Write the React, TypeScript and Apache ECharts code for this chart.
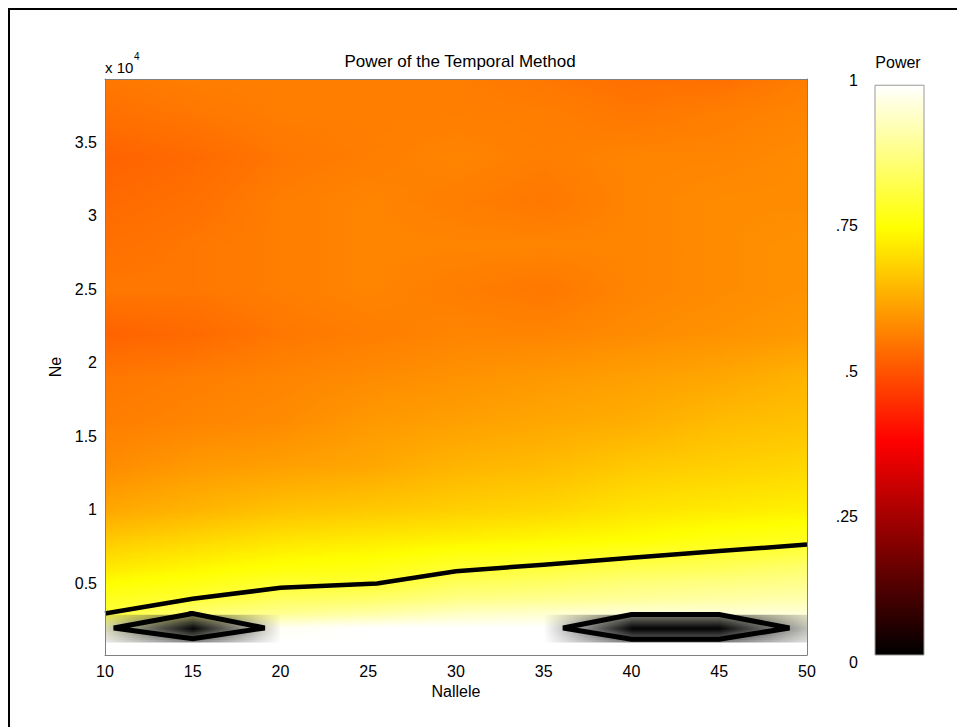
import React, { useEffect, useRef } from 'react';
import * as echarts from 'echarts';

// ---------------- data ----------------
const nallele = [10, 15, 20, 25, 30, 35, 40, 45, 50];
const neRows = [0, 1000, 2000, 3000, 4000, 5000, 6000, 8000, 10000, 13000, 16000, 19000, 22000, 25000, 28000, 31000, 34000, 37000, 39300];

const powerNe0 = [1, 1, 1, 1, 1, 1, 1, 1, 1];
const powerNe1000 = [1, 1, 1, 1, 1, 1, 1, 1, 1];
const powerNe2000 = [0.96, 0.98, 0.99, 1, 1, 1, 1, 1, 0.99];
const powerNe3000 = [0.8, 0.86, 0.89, 0.91, 0.94, 0.95, 0.96, 0.96, 0.96];
const powerNe4000 = [0.78, 0.8, 0.84, 0.85, 0.88, 0.89, 0.9, 0.91, 0.92];
const powerNe5000 = [0.75, 0.77, 0.8, 0.8, 0.84, 0.85, 0.87, 0.88, 0.89];
const powerNe6000 = [0.72, 0.74, 0.76, 0.77, 0.8, 0.81, 0.83, 0.84, 0.86];
const powerNe8000 = [0.67, 0.69, 0.71, 0.72, 0.73, 0.74, 0.75, 0.77, 0.78];
const powerNe10000 = [0.62, 0.64, 0.66, 0.67, 0.68, 0.69, 0.71, 0.72, 0.73];
const powerNe13000 = [0.58, 0.6, 0.61, 0.62, 0.64, 0.65, 0.67, 0.68, 0.69];
const powerNe16000 = [0.56, 0.57, 0.58, 0.6, 0.61, 0.62, 0.63, 0.65, 0.66];
const powerNe19000 = [0.55, 0.56, 0.57, 0.58, 0.59, 0.6, 0.61, 0.62, 0.64];
const powerNe22000 = [0.52, 0.53, 0.55, 0.56, 0.57, 0.57, 0.58, 0.59, 0.6];
const powerNe25000 = [0.55, 0.55, 0.56, 0.57, 0.56, 0.55, 0.57, 0.58, 0.59];
const powerNe28000 = [0.54, 0.55, 0.56, 0.57, 0.57, 0.57, 0.57, 0.58, 0.59];
const powerNe31000 = [0.53, 0.54, 0.56, 0.57, 0.56, 0.55, 0.57, 0.58, 0.58];
const powerNe34000 = [0.52, 0.53, 0.55, 0.56, 0.57, 0.56, 0.57, 0.57, 0.58];
const powerNe37000 = [0.54, 0.55, 0.56, 0.56, 0.56, 0.56, 0.55, 0.56, 0.57];
const powerNe39300 = [0.55, 0.56, 0.56, 0.56, 0.56, 0.55, 0.54, 0.54, 0.56];

const powerGrid = [
  powerNe0, powerNe1000, powerNe2000, powerNe3000, powerNe4000, powerNe5000, powerNe6000,
  powerNe8000, powerNe10000, powerNe13000, powerNe16000, powerNe19000, powerNe22000,
  powerNe25000, powerNe28000, powerNe31000, powerNe34000, powerNe37000, powerNe39300,
];

// dark (gray) low-power band
const shadeNe = [1000, 1950, 2900];
const shadeNe1000 = [0.08, 0.45, 0, 0, 0, 0, 0.5, 0.5, 0.12];
const shadeNe1950 = [0.15, 1.0, 0, 0, 0, 0, 1.0, 1.0, 0.25];
const shadeNe2900 = [0.08, 0.45, 0, 0, 0, 0, 0.5, 0.5, 0.12];
const shadeGrid = [shadeNe1000, shadeNe1950, shadeNe2900];

// contour lines
const contourX = [10, 15, 20, 25.5, 30, 35, 40, 45, 50];
const contourNe = [2920, 3930, 4670, 4960, 5800, 6250, 6720, 7170, 7620];
const zoneAX = [10.5, 15, 19.1, 15, 10.5, 15];
const zoneANe = [1940, 2920, 1940, 1210, 1940, 2920];
const zoneBX = [36.1, 40, 45, 49, 45, 40, 36.1, 40];
const zoneBNe = [1940, 2850, 2850, 1940, 1170, 1170, 1940, 2850];

const xTicks = { min: 10, max: 50, interval: 5 };
const yRange = { min: 100, max: 39300, splitNumber: 8 };
const colorbarTicks = [0, 0.25, 0.5, 0.75, 1];
const colorbarSpan = [0.012, 0.991];

// ---------------- helpers ----------------
const FONT = "'Liberation Sans', Arial, Helvetica, sans-serif";
const clamp01 = (v: number) => Math.max(0, Math.min(1, v));

function hot(v: number, s = 0): string {
  const r = clamp01(v / 0.375);
  const g = clamp01((v - 0.375) / 0.375);
  const b = clamp01((v - 0.75) / 0.25);
  const k = 1 - clamp01(s);
  return `rgb(${Math.round(r * k * 255)},${Math.round(g * k * 255)},${Math.round(b * k * 255)})`;
}

function findIdx(arr: number[], v: number): [number, number] {
  if (v <= arr[0]) return [0, 0];
  for (let i = 0; i < arr.length - 1; i++) {
    if (v <= arr[i + 1]) return [i, (v - arr[i]) / (arr[i + 1] - arr[i])];
  }
  return [arr.length - 2, 1];
}

function bilinear(grid: number[][], rows: number[], x: number, ne: number): number {
  const [i, tx] = findIdx(nallele, x);
  const [j, ty] = findIdx(rows, ne);
  const j1 = Math.min(j + 1, rows.length - 1);
  const i1 = Math.min(i + 1, nallele.length - 1);
  const a = grid[j][i] * (1 - ty) + grid[j1][i] * ty;
  const b = grid[j][i1] * (1 - ty) + grid[j1][i1] * ty;
  return a * (1 - tx) + b * tx;
}

function shadeAt(x: number, ne: number): number {
  if (ne < shadeNe[0] || ne > shadeNe[shadeNe.length - 1]) return 0;
  return bilinear(shadeGrid, shadeNe, x, ne);
}

// sampling boundaries for the smooth shading (rendering only)
const STRIPS = 300;
const stripEdges: number[] = (() => {
  const lo = neRows[0];
  const hi = neRows[neRows.length - 1];
  const e: number[] = [];
  for (let k = 0; k <= STRIPS; k++) e.push(lo + (k * (hi - lo)) / STRIPS);
  e.push(shadeNe[0], shadeNe[shadeNe.length - 1]);
  e.sort((a, b) => a - b);
  return e.filter((v, i) => i === 0 || v - e[i - 1] > 1e-6);
})();

const cellData = nallele.slice(0, -1).map((x, i) => [x, neRows[0], nallele[i + 1], neRows[neRows.length - 1]]);

function renderSurface(params: any, api: any) {
  const x0 = api.value(0);
  const x1 = api.value(2);
  const children: any[] = [];
  const N = 8;
  for (let k = 0; k < stripEdges.length - 1; k++) {
    const neA = stripEdges[k];
    const neB = stripEdges[k + 1];
    const neC = (neA + neB) / 2;
    const tl = api.coord([x0, neB]);
    const br = api.coord([x1, neA]);
    const stops: any[] = [];
    for (let m = 0; m <= N; m++) {
      const t = m / N;
      const x = x0 + t * (x1 - x0);
      stops.push({ offset: t, color: hot(bilinear(powerGrid, neRows, x, neC), shadeAt(x, neC)) });
    }
    children.push({
      type: 'rect',
      shape: { x: tl[0], y: tl[1], width: br[0] - tl[0] + 0.8, height: br[1] - tl[1] + 0.8 },
      style: { fill: new echarts.graphic.LinearGradient(0, 0, 1, 0, stops) },
      silent: true,
    });
  }
  return { type: 'group', children };
}

function renderColorbar(params: any, api: any) {
  const tl = api.coord([api.value(0), api.value(3)]);
  const br = api.coord([api.value(2), api.value(1)]);
  const stops: any[] = [];
  for (let m = 0; m <= 16; m++) {
    const t = m / 16;
    stops.push({ offset: t, color: hot(1 - t) });
  }
  return {
    type: 'rect',
    shape: { x: tl[0], y: tl[1], width: br[0] - tl[0], height: br[1] - tl[1] },
    style: { fill: new echarts.graphic.LinearGradient(0, 0, 0, 1, stops), stroke: '#9a9a9a', lineWidth: 1 },
    silent: true,
  };
}

const boxLine = { show: true, lineStyle: { color: '#808080', width: 1 } };
const tickLabel = { color: '#000', fontSize: 16, fontFamily: FONT };

const lineSeries = (xsArr: number[], nes: number[], width: number) => ({
  type: 'line',
  xAxisIndex: 0,
  yAxisIndex: 0,
  data: xsArr.map((x, i) => [x, nes[i]]),
  symbol: 'none',
  showSymbol: false,
  lineStyle: { color: '#000', width, join: 'miter', cap: 'butt' },
  silent: true,
  z: 5,
  clip: true,
});

const option: any = {
  animation: false,
  backgroundColor: 'transparent',
  title: {
    text: 'Power of the Temporal Method',
    left: 455,
    top: 48,
    textAlign: 'center',
    textStyle: { fontFamily: FONT, fontSize: 17, fontWeight: 'normal', color: '#000' },
  },
  grid: [
    { left: 105, top: 79, width: 702, height: 576 },
    { left: 875, top: 80, width: 49, height: 582 },
  ],
  xAxis: [
    {
      gridIndex: 0, type: 'value', ...xTicks, position: 'bottom', z: 10,
      axisLine: boxLine, axisTick: { show: false }, splitLine: { show: false },
      axisLabel: { ...tickLabel, margin: 8 },
      name: 'Nallele', nameLocation: 'middle', nameGap: 27,
      nameTextStyle: { color: '#000', fontSize: 16, fontFamily: FONT },
    },
    {
      gridIndex: 0, type: 'value', ...xTicks, position: 'top', z: 10,
      axisLine: boxLine, axisTick: { show: false }, splitLine: { show: false }, axisLabel: { show: false },
    },
    { gridIndex: 1, type: 'value', min: 0, max: 1, show: false },
  ],
  yAxis: [
    {
      gridIndex: 0, type: 'value', ...yRange, position: 'left', z: 10,
      axisLine: boxLine, axisTick: { show: false }, splitLine: { show: false },
      axisLabel: {
        ...tickLabel, margin: 8, showMinLabel: false, showMaxLabel: false,
        formatter: (v: number) => String(v / 10000),
      },
      name: 'Ne', nameLocation: 'middle', nameGap: 34, nameRotate: 90,
      nameTextStyle: { color: '#000', fontSize: 16, fontFamily: FONT },
    },
    {
      gridIndex: 0, type: 'value', ...yRange, position: 'right', z: 10,
      axisLine: boxLine, axisTick: { show: false }, splitLine: { show: false }, axisLabel: { show: false },
    },
    {
      gridIndex: 1, type: 'value', min: colorbarTicks[0], max: colorbarTicks[colorbarTicks.length - 1],
      interval: colorbarTicks[1] - colorbarTicks[0], position: 'left',
      axisLine: { show: false }, axisTick: { show: false }, splitLine: { show: false },
      axisLabel: {
        ...tickLabel, margin: 17,
        formatter: (v: number) => (v === 0 || v === 1 ? String(v) : String(v).replace(/^0/, '')),
      },
    },
  ],
  graphic: [
    { type: 'text', x: 105, y: 67, style: { text: 'x 10', fontFamily: FONT, fontSize: 15, fill: '#000', textVerticalAlign: 'middle' } },
    { type: 'text', x: 134, y: 56, style: { text: '4', fontFamily: FONT, fontSize: 10, fill: '#000', textVerticalAlign: 'middle' } },
    { type: 'text', x: 898, y: 62, style: { text: 'Power', fontFamily: FONT, fontSize: 16, fill: '#000', textAlign: 'center', textVerticalAlign: 'middle' } },
  ],
  series: [
    {
      type: 'custom',
      xAxisIndex: 0,
      yAxisIndex: 0,
      data: cellData,
      encode: { x: [0, 2], y: [1, 3] },
      renderItem: renderSurface,
      clip: true,
      silent: true,
      z: 1,
    },
    lineSeries(contourX, contourNe, 4.5),
    lineSeries(zoneAX, zoneANe, 5),
    lineSeries(zoneBX, zoneBNe, 5),
    {
      type: 'custom',
      xAxisIndex: 2,
      yAxisIndex: 2,
      data: [[0, colorbarSpan[0], 1, colorbarSpan[1]]],
      encode: { x: [0, 2], y: [1, 3] },
      renderItem: renderColorbar,
      silent: true,
    },
  ],
};

export default function App() {
  const ref = useRef<HTMLDivElement>(null);
  useEffect(() => {
    if (!ref.current) return;
    const chart = echarts.init(ref.current, null, { renderer: 'svg' });
    chart.setOption(option);
    return () => chart.dispose();
  }, []);
  return (
    <div
      style={{
        position: 'relative',
        width: 957,
        height: 719,
        boxSizing: 'border-box',
        borderTop: '2px solid #000',
        borderLeft: '2px solid #000',
      }}
    >
      <div ref={ref} style={{ position: 'absolute', left: -10, top: -10, width: 965, height: 727 }} />
    </div>
  );
}
